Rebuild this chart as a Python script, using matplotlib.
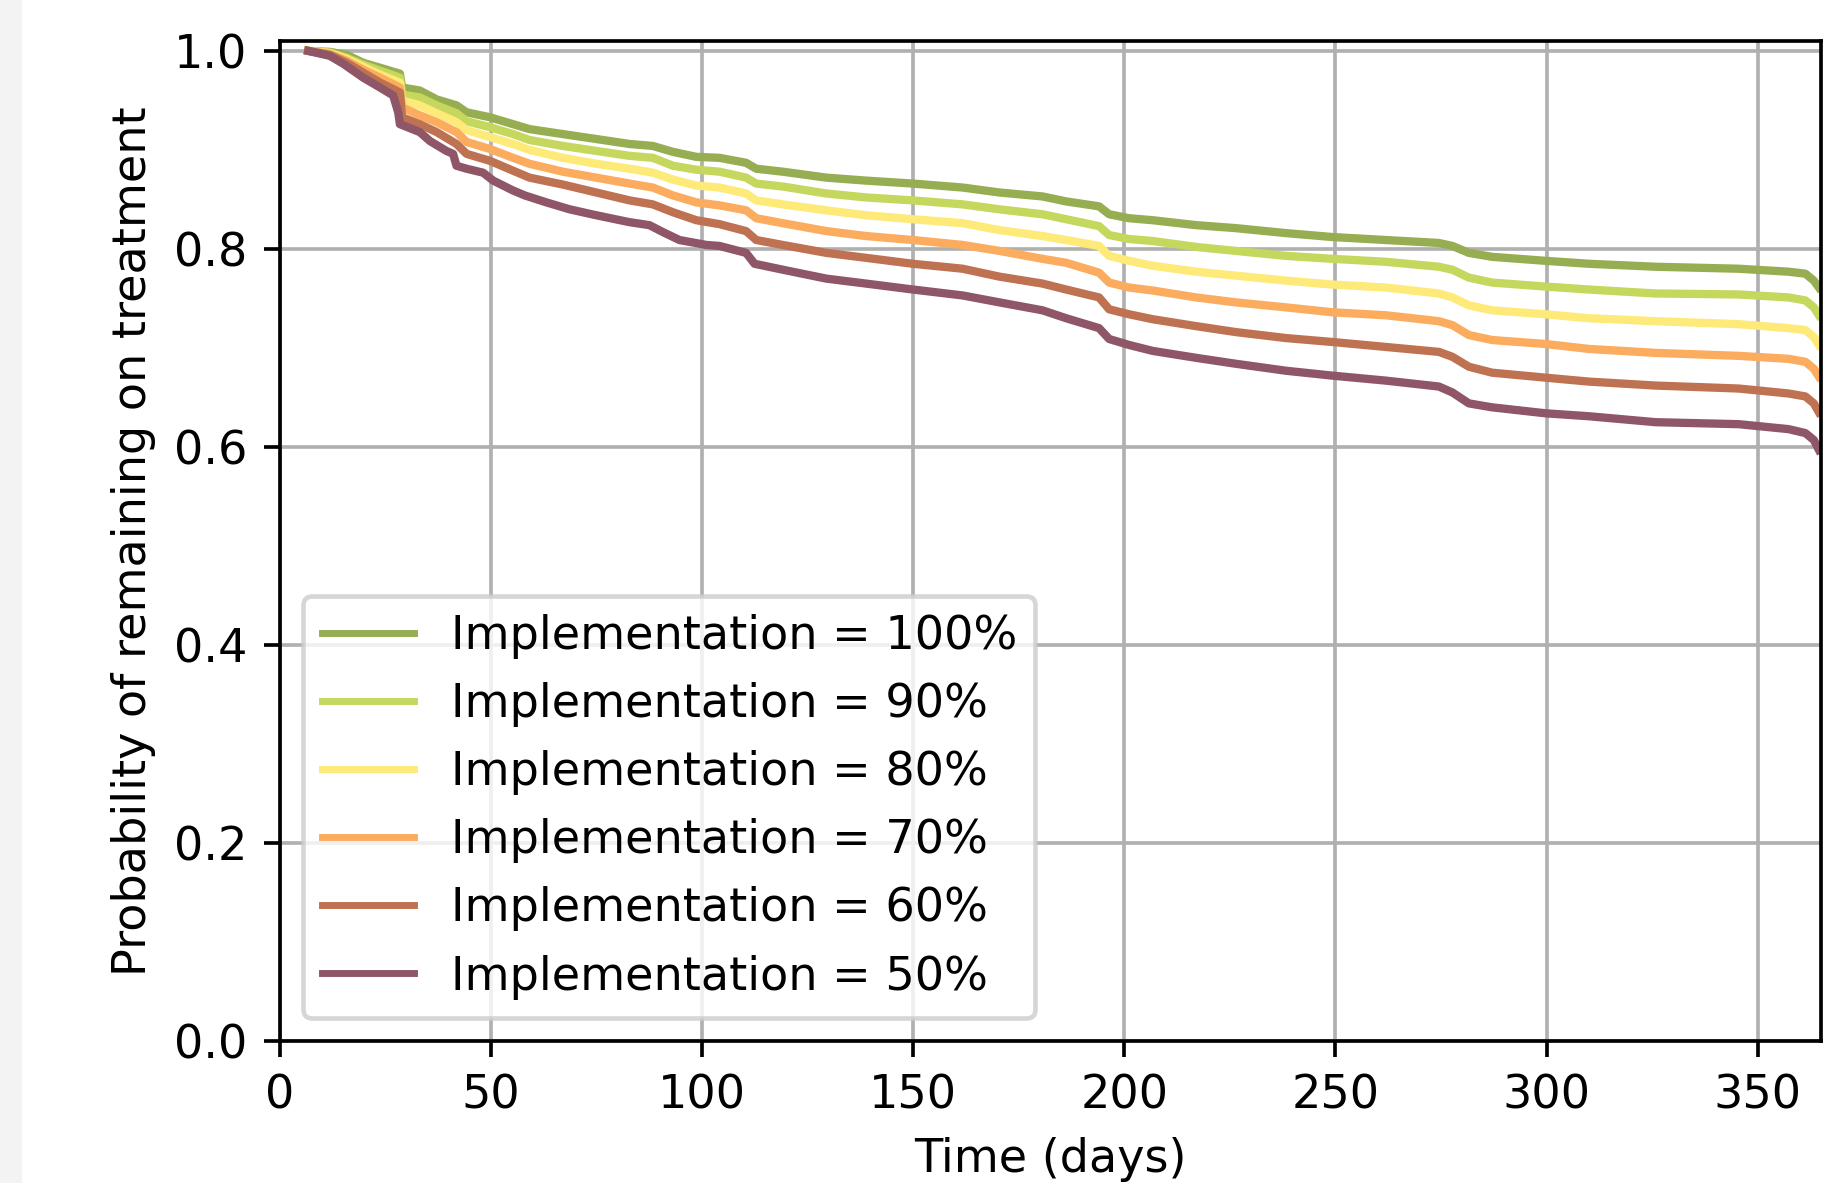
import matplotlib
matplotlib.use("Agg")
import matplotlib.pyplot as plt
from matplotlib.patches import Rectangle

# ---- data ----
days = [6.7, 11.8, 15.8, 19.7, 23.7, 28.4, 28.9, 33.1, 37.1, 41.8, 44.2, 49.7, 55.2,
        59.1, 67.0, 74.9, 82.8, 88.3, 93.1, 98.6, 104.1, 110.4, 112.8, 119.1, 129.4,
        138.8, 149.9, 161.7, 170.4, 180.6, 186.2, 194.0, 196.4, 201.1, 206.7, 217.0,
        226.4, 238.2, 249.3, 261.9, 274.5, 277.7, 281.6, 287.1, 299.7, 310.0, 325.8,
        345.5, 357.3, 361.3, 363.3, 364.5]

surv_100 = [1.000, 0.999, 0.996, 0.988, 0.983, 0.977, 0.963, 0.960, 0.951, 0.945, 0.938,
            0.933, 0.926, 0.921, 0.916, 0.911, 0.906, 0.904, 0.898, 0.893, 0.892, 0.887,
            0.881, 0.878, 0.872, 0.869, 0.866, 0.862, 0.857, 0.853, 0.848, 0.843, 0.835,
            0.831, 0.829, 0.824, 0.821, 0.816, 0.812, 0.809, 0.806, 0.803, 0.796, 0.792,
            0.788, 0.785, 0.782, 0.780, 0.777, 0.775, 0.768, 0.761]

surv_90 = [1.000, 0.998, 0.993, 0.986, 0.980, 0.973, 0.956, 0.953, 0.945, 0.937, 0.929,
           0.923, 0.916, 0.910, 0.904, 0.899, 0.894, 0.892, 0.884, 0.880, 0.878, 0.872,
           0.866, 0.863, 0.856, 0.852, 0.849, 0.845, 0.840, 0.835, 0.830, 0.823, 0.814,
           0.810, 0.808, 0.802, 0.798, 0.793, 0.790, 0.787, 0.782, 0.779, 0.771, 0.766,
           0.762, 0.759, 0.755, 0.754, 0.751, 0.748, 0.741, 0.733]

surv_80 = [1.000, 0.998, 0.992, 0.984, 0.976, 0.968, 0.950, 0.945, 0.937, 0.928, 0.920,
           0.913, 0.906, 0.900, 0.892, 0.886, 0.881, 0.877, 0.870, 0.864, 0.862, 0.856,
           0.849, 0.845, 0.839, 0.834, 0.830, 0.826, 0.819, 0.813, 0.809, 0.803, 0.793,
           0.788, 0.783, 0.777, 0.773, 0.768, 0.764, 0.761, 0.755, 0.751, 0.743, 0.738,
           0.734, 0.730, 0.727, 0.724, 0.720, 0.718, 0.711, 0.703]

surv_70 = [1.000, 0.997, 0.990, 0.981, 0.973, 0.963, 0.943, 0.935, 0.928, 0.918, 0.908,
           0.901, 0.892, 0.886, 0.878, 0.872, 0.866, 0.862, 0.854, 0.847, 0.844, 0.839,
           0.831, 0.826, 0.818, 0.813, 0.809, 0.804, 0.798, 0.790, 0.786, 0.776, 0.766,
           0.761, 0.758, 0.751, 0.746, 0.741, 0.736, 0.733, 0.727, 0.723, 0.713, 0.708,
           0.704, 0.699, 0.695, 0.692, 0.689, 0.686, 0.679, 0.671]

surv_60 = [1.000, 0.996, 0.988, 0.978, 0.968, 0.958, 0.933, 0.926, 0.918, 0.906, 0.896,
           0.889, 0.879, 0.872, 0.865, 0.857, 0.849, 0.845, 0.837, 0.829, 0.825, 0.818,
           0.809, 0.804, 0.796, 0.791, 0.785, 0.780, 0.772, 0.765, 0.759, 0.751, 0.739,
           0.734, 0.729, 0.722, 0.716, 0.710, 0.706, 0.701, 0.696, 0.691, 0.681, 0.675,
           0.670, 0.666, 0.662, 0.659, 0.654, 0.651, 0.644, 0.635]

days_50 = [6.7, 11.8, 15.0, 19.7, 23.7, 26.8, 28.0, 28.4, 33.1, 35.5, 39.4, 41.0, 41.8,
           44.2, 48.1, 50.5, 55.2, 58.0, 63.1, 68.6, 74.9, 82.8, 87.5, 90.7, 94.6, 101.0,
           104.1, 110.4, 112.4, 119.1, 129.4, 138.8, 149.9, 161.7, 170.4, 180.6, 186.2,
           194.0, 196.4, 201.1, 206.7, 217.0, 226.4, 238.2, 249.3, 261.9, 274.5, 277.7,
           281.6, 287.1, 299.7, 310.0, 325.8, 345.5, 357.3, 361.3, 363.3, 364.5]

surv_50 = [1.000, 0.995, 0.987, 0.973, 0.963, 0.955, 0.938, 0.926, 0.918, 0.909, 0.899,
           0.896, 0.884, 0.881, 0.877, 0.869, 0.859, 0.854, 0.847, 0.840, 0.834, 0.827,
           0.824, 0.817, 0.809, 0.804, 0.803, 0.796, 0.785, 0.779, 0.770, 0.765, 0.759,
           0.753, 0.746, 0.738, 0.730, 0.720, 0.709, 0.703, 0.697, 0.690, 0.684, 0.677,
           0.672, 0.667, 0.661, 0.655, 0.644, 0.640, 0.634, 0.631, 0.625, 0.623, 0.618,
           0.614, 0.607, 0.597]

labels = ["Implementation = 100%", "Implementation = 90%", "Implementation = 80%",
          "Implementation = 70%", "Implementation = 60%", "Implementation = 50%"]
colors = ["#97ad51", "#c6d75e", "#fdea78", "#fbac5e", "#bf7251", "#8f5667"]

series = [(days, surv_100), (days, surv_90), (days, surv_80),
          (days, surv_70), (days, surv_60), (days_50, surv_50)]

# ---- figure ----
DPI = 332
fig = plt.figure(figsize=(1845 / DPI, 1183 / DPI), dpi=DPI)
ax = fig.add_axes([280 / 1845, 1 - 1041 / 1183, (1821 - 280) / 1845, (1041 - 41) / 1183])

for (t, s), lab, col in zip(series, labels, colors):
    ax.plot(t, s, color=col, lw=1.8, label=lab, solid_joinstyle="round")

ax.set_xlim(0, 365)
ax.set_ylim(0, 1.01)
ax.set_xticks([0, 50, 100, 150, 200, 250, 300, 350])
ax.set_yticks([0.0, 0.2, 0.4, 0.6, 0.8, 1.0])
ax.grid(True)
ax.set_axisbelow(True)
ax.set_xlabel("Time (days)")
ax.set_ylabel("Probability of remaining on treatment")
leg = ax.legend(loc="lower left")
for ln in leg.get_lines():
    ln.set_linewidth(1.5)

# faint screenshot edge on the left
fig.patches.append(Rectangle((0, 0), 22 / 1845, 1, transform=fig.transFigure,
                             facecolor="#f3f3f3", edgecolor="none", zorder=-1))

fig.savefig("out.png", dpi=DPI)
